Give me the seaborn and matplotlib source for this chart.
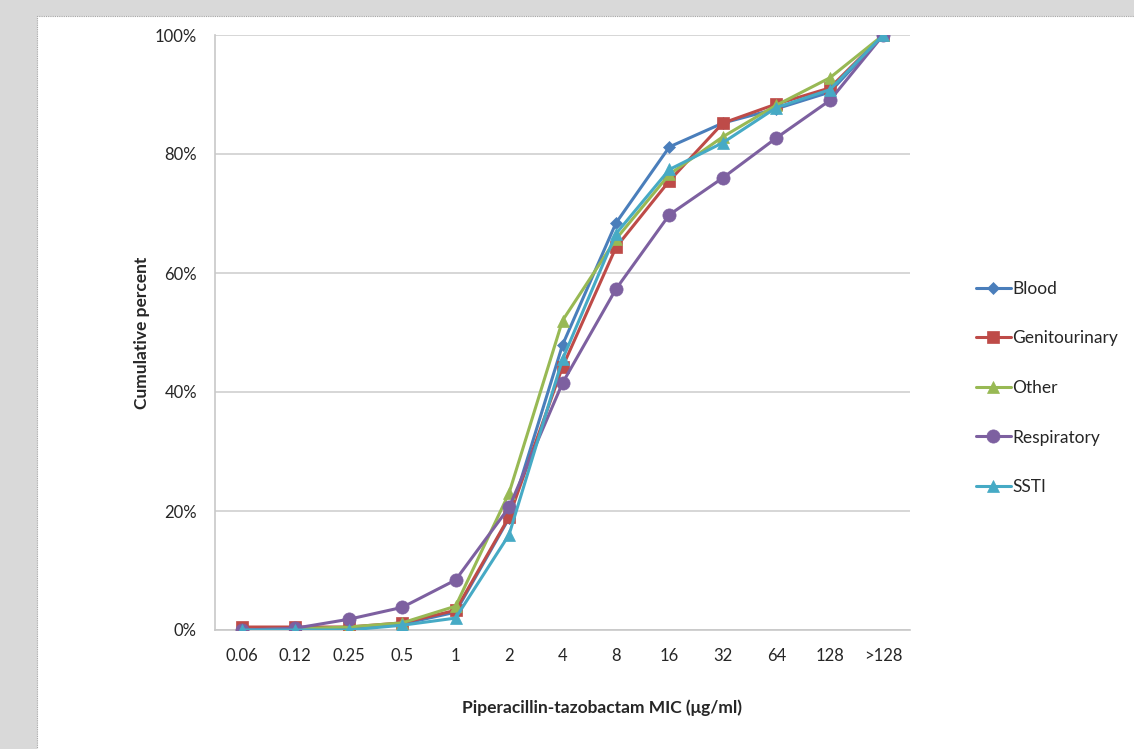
import matplotlib
matplotlib.use("Agg")
import matplotlib.pyplot as plt
import seaborn as sns
import numpy as np
import pandas as pd
from matplotlib.patches import Rectangle
from matplotlib.ticker import FixedLocator, PercentFormatter

categories = ["0.06", "0.12", "0.25", "0.5", "1", "2", "4", "8", "16", "32", "64", "128", ">128"]
blood = [0.0, 0.0, 0.3, 1.0, 3.0, 18.8, 47.9, 68.4, 81.2, 85.2, 87.6, 90.4, 100.0]
genitourinary = [0.5, 0.5, 0.5, 1.2, 3.3, 19.0, 44.2, 64.3, 75.5, 85.2, 88.4, 91.1, 100.0]
other = [0.0, 0.2, 0.5, 1.2, 4.0, 23.0, 52.0, 65.7, 76.6, 82.9, 88.2, 92.8, 100.0]
respiratory = [0.0, 0.3, 1.8, 3.8, 8.4, 20.6, 41.5, 57.3, 69.8, 76.0, 82.7, 89.0, 100.0]
ssti = [0.0, 0.0, 0.0, 0.8, 2.0, 16.0, 45.5, 66.6, 77.4, 81.9, 87.8, 90.8, 100.0]

series_names = ["Blood", "Genitourinary", "Other", "Respiratory", "SSTI"]
series_values = [blood, genitourinary, other, respiratory, ssti]
colors = ["#4a7ebb", "#be4b48", "#98b954", "#7d60a0", "#46aac5"]
markers = ["D", "s", "^", "o", "^"]
msizes = [6.5, 8, 8.5, 9.5, 8.5]

sns.set_style("white")
plt.rcParams["font.family"] = ["Lato", "DejaVu Sans"]

fig = plt.figure(figsize=(11.34, 7.49), dpi=100)
fig.patch.set_facecolor("#d9d9d9")
panel = Rectangle((37 / 1134, -0.01), 1.02, 1 - 16 / 749 + 0.01, transform=fig.transFigure,
                  facecolor="white", edgecolor="#a6a6a6", linewidth=0.8, linestyle=(0, (1, 1)), zorder=-5)
fig.patches.append(panel)

ax = fig.add_axes([215 / 1134, 1 - 630 / 749, (910 - 215) / 1134, (630 - 35) / 749])
ax.set_zorder(2)
ax.set_facecolor("white")

x = np.arange(len(categories))
for name, vals, c, m, ms in zip(series_names, series_values, colors, markers, msizes):
    sns.lineplot(x=x, y=vals, ax=ax, color=c, marker=m, markersize=ms, linewidth=2.2,
                 markeredgecolor=c, markeredgewidth=0.5, label=name, zorder=3)

ax.set_xlim(-0.5, len(categories) - 0.5)
ax.set_ylim(0, 100)
ax.set_yticks([0, 20, 40, 60, 80, 100])
ax.yaxis.set_major_formatter(PercentFormatter(decimals=0))
ax.set_xticks(x)
ax.set_xticklabels(categories)
ax.xaxis.set_minor_locator(FixedLocator(np.arange(-0.5, len(categories), 1)))
ax.tick_params(axis="x", which="major", length=0, pad=13, labelsize=12, labelcolor="#262626")
ax.tick_params(axis="x", which="minor", length=6, color="#bfbfbf", width=1.2)
ax.tick_params(axis="y", which="major", length=6, color="#d0d0d0", width=1.2, labelsize=12,
               labelcolor="#262626", pad=7)
ax.grid(axis="y", color="#d0d0d0", linewidth=1.2)
ax.set_axisbelow(True)
for s in ["top", "right"]:
    ax.spines[s].set_visible(False)
ax.spines["left"].set_color("#c8c8c8")
ax.spines["bottom"].set_color("#c8c8c8")
ax.spines["left"].set_linewidth(1.2)
ax.spines["bottom"].set_linewidth(1.2)
ax.set_xlabel("")
ax.set_ylabel("")

fig.text(142 / 1134, 1 - 333 / 749, "Cumulative percent", rotation=90, ha="center", va="center",
         fontsize=12.5, fontweight="bold", color="#262626")
fig.text(602 / 1134, 1 - 708 / 749, "Piperacillin-tazobactam MIC (\u03bcg/ml)", ha="center", va="center",
         fontsize=12.5, fontweight="bold", color="#262626")

leg = ax.legend(loc="center left", bbox_to_anchor=(976 / 1134, 1 - 388 / 749),
                bbox_transform=fig.transFigure, frameon=False, labelspacing=1.93,
                handlelength=2.0, handletextpad=0.1, fontsize=12.5, borderaxespad=0,
                borderpad=0)
for t in leg.get_texts():
    t.set_color("#262626")

fig.savefig("out.png", dpi=100, facecolor=fig.get_facecolor())
